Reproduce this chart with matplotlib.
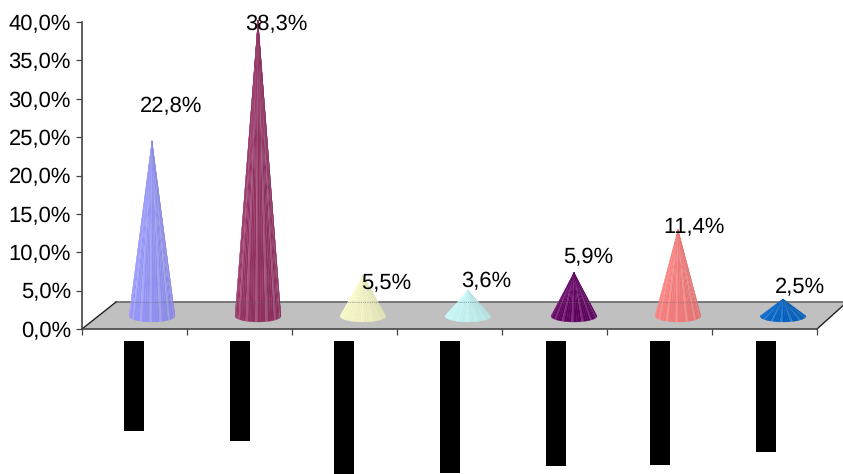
import numpy as np
import matplotlib
matplotlib.use("Agg")
import matplotlib.pyplot as plt
from matplotlib.colors import to_rgb
from matplotlib.patches import Polygon

plt.rcParams['font.family'] = ['Liberation Sans', 'DejaVu Sans']
plt.rcParams['text.hinting'] = 'no_hinting'
plt.rcParams['text.hinting_factor'] = 1

values = [22.8, 38.3, 5.5, 3.6, 5.9, 11.4, 2.5]
value_labels = ['22,8%', '38,3%', '5,5%', '3,6%', '5,9%', '11,4%', '2,5%']
cone_colors = ['#9999ff', '#993366', '#ffffcc', '#ccffff', '#660066', '#ff8080', '#0066cc']
# black blocks hiding the category names, length in pixels
hidden_lengths = [90, 100, 133, 132, 125, 124, 111]
y_ticks = [0, 5, 10, 15, 20, 25, 30, 35, 40]

# label offset from the cone tip, pixels
label_dx = [19, 18, 23, 18, 14, 16, 17]
label_dy = [34, -4, -8, 9, 15, 2, 12]
# small pixel shifts of the blocks and cones against the category centres
block_nudge = [-0.5, 0.5, -0.5, 0.5, 1.5, 0.5, 1.5]
cone_nudge = [17.5, 18.5, 18.5, 18.5, 19.5, 18.5, 18.5]

W, H = 843, 474
fig = plt.figure(figsize=(W / 100, H / 100), dpi=100)
ax = fig.add_axes([82 / W, (H - 329) / H, 735 / W, 307 / H])
ax.set_xlim(0, 7)
ax.set_ylim(0, 40)
low = fig.add_axes([82 / W, 0, 735 / W, (H - 341) / H])
low.set_xlim(0, 7)
low.set_ylim(133, 0)
low.axis('off')

px_x = 7 / 735
px_y = 40 / 307

# floor of the 3d box
floor = Polygon([(0, 0), (7, 0), (7 + 30 * px_x, 27 * px_y), (34 * px_x, 27 * px_y)],
                facecolor='#c0c0c0', edgecolor='none', clip_on=False, zorder=1)
ax.add_patch(floor)
ax.plot([34 * px_x, 7 + 30 * px_x], [27 * px_y, 27 * px_y], color='#666666', lw=1.2,
        clip_on=False, zorder=2)
ax.plot([0, 34 * px_x], [0, 27 * px_y], color='#222222', lw=1, clip_on=False, zorder=2)
ax.plot([7, 7 + 30 * px_x], [0, 27 * px_y], color='#222222', lw=1, clip_on=False, zorder=2)


def draw_cone(cx, value, color):
    base = np.array(to_rgb(color))
    cy = 13 * px_y
    a = 23 * px_x
    b = 6 * px_y
    tip = 1.36 + value * 1.015
    angles = np.linspace(np.pi, 2 * np.pi, 29)
    for k in range(28):
        t = k / 27
        # duller towards the right, thin light streak every fourth facet
        shade = 1.0 - 0.12 * t
        col = base * shade
        if k % 4 == 1:
            col = col + (1 - col) * 0.18
        p0 = (cx + a * np.cos(angles[k]), cy + b * np.sin(angles[k]))
        p1 = (cx + a * np.cos(angles[k + 1]), cy + b * np.sin(angles[k + 1]))
        ax.fill([p0[0], p1[0], cx], [p0[1], p1[1], tip], color=np.clip(col, 0, 1),
                lw=0.2, clip_on=False, zorder=3)
    return tip


for i, v in enumerate(values):
    cx = i + 0.5 + cone_nudge[i] * px_x
    tip = draw_cone(cx, v, cone_colors[i])
    ax.annotate(value_labels[i], xy=(cx, tip), xytext=(label_dx[i], label_dy[i]),
                textcoords='offset pixels', ha='center', va='center', fontsize=16,
                color='black', annotation_clip=False, zorder=5)

# dotted back line seen through the cones
ax.plot([34 * px_x, 7 + 30 * px_x], [27 * px_y, 27 * px_y], color='#777777', lw=0.5,
        ls=':', clip_on=False, zorder=4)

low.bar(np.arange(7) + 0.5 + np.array(block_nudge) * px_x, hidden_lengths, width=20 * px_x,
        color='black', clip_on=True)

for side in ['top', 'right']:
    ax.spines[side].set_visible(False)
for side in ['left', 'bottom']:
    ax.spines[side].set_color('#444444')
    ax.spines[side].set_linewidth(1.2)
    ax.spines[side].set_zorder(2.5)
ax.patch.set_visible(False)
ax.set_xticks(range(8))
ax.set_xticklabels([])
ax.set_yticks(y_ticks)
ax.set_yticklabels([f'{t},0%' for t in y_ticks], fontsize=16)
ax.tick_params(axis='both', length=4.5, width=0.9, color='#444444', pad=3.5)

fig.savefig('out.png', dpi=100)
